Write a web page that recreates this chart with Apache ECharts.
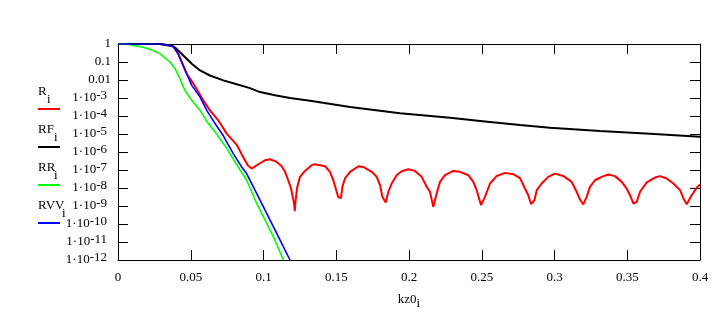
<!DOCTYPE html>
<html>
<head>
<meta charset="utf-8">
<script src="https://cdn.jsdelivr.net/npm/echarts@6/dist/echarts.min.js"></script>
<style>
  * { margin: 0; padding: 0; }
  html, body { background: #fff; }
  #main { width: 720px; height: 326px; }
</style>
</head>
<body>
<div id="main"></div>
<script>
// values: kz0_i and log10 of each curve
var xR = [0, 0.0289, 0.038, 0.0414, 0.0438, 0.0472, 0.0518, 0.0586, 0.0632, 0.0689, 0.0747, 0.0816, 0.0859, 0.0893, 0.0919,
  0.0964, 0.101, 0.1045, 0.1091, 0.1125, 0.1148, 0.117, 0.1189, 0.1201, 0.121, 0.1215, 0.1221, 0.1232, 0.1251, 0.1285,
  0.1331, 0.1354, 0.1423, 0.1457, 0.148, 0.1503, 0.1514, 0.1533, 0.1542, 0.156, 0.1595, 0.1652, 0.1686, 0.1744, 0.1778,
  0.1801, 0.1817, 0.184, 0.1858, 0.1881, 0.1915, 0.195, 0.1995, 0.2041, 0.2087, 0.2122, 0.2144, 0.2167, 0.219, 0.2213,
  0.2247, 0.2305, 0.2351, 0.2408, 0.2442, 0.2465, 0.2495, 0.2522, 0.2557, 0.2603, 0.266, 0.2717, 0.2763, 0.2797, 0.282,
  0.2839, 0.2862, 0.2878, 0.2912, 0.2957, 0.3003, 0.306, 0.3118, 0.3152, 0.3175, 0.3198, 0.3221, 0.3244, 0.3278, 0.3324,
  0.337, 0.3416, 0.3462, 0.3496, 0.3519, 0.3542, 0.3565, 0.3588, 0.3634, 0.3691, 0.3725, 0.3771, 0.3817, 0.3863, 0.3886,
  0.3909, 0.3943, 0.3978, 0.4];
var logR = [0, 0, -0.14, -0.55, -1.0, -1.65, -2.2, -3.13, -3.69, -4.24, -4.98, -5.6, -6.27, -6.75, -6.92,
  -6.68, -6.46, -6.4, -6.55, -6.79, -7.1, -7.57, -8.03, -8.49, -8.86, -9.28, -8.68, -7.94, -7.38, -7.05,
  -6.73, -6.68, -6.79, -7.1, -7.57, -8.21, -8.52, -8.55, -7.94, -7.47, -7.1, -6.79, -6.83, -7.1, -7.38,
  -7.84, -8.49, -8.8, -8.21, -7.75, -7.29, -7.07, -6.96, -7.05, -7.38, -7.94, -8.21, -9.05, -8.3, -7.66,
  -7.29, -7.05, -7.1, -7.29, -7.66, -8.12, -8.95, -8.49, -7.75, -7.33, -7.16, -7.23, -7.45, -8.03, -8.4,
  -8.9, -8.68, -8.12, -7.75, -7.38, -7.2, -7.33, -7.66, -8.21, -8.64, -8.91, -8.49, -7.94, -7.57, -7.38,
  -7.25, -7.34, -7.66, -8.03, -8.4, -8.86, -8.77, -8.21, -7.69, -7.42, -7.34, -7.47, -7.75, -8.12, -8.58,
  -8.9, -8.4, -7.98, -7.8];

var xRF = [0, 0.0289, 0.0369, 0.0403, 0.0449, 0.0507, 0.0564, 0.0632, 0.0724, 0.0816, 0.0907, 0.0976, 0.1079, 0.1182,
  0.132, 0.1595, 0.1938, 0.2282, 0.2522, 0.2763, 0.2969, 0.3313, 0.3656, 0.4];
var logRF = [0, 0, -0.08, -0.27, -0.64, -1.1, -1.47, -1.75, -2.02, -2.24, -2.45, -2.67, -2.85, -3.0,
  -3.15, -3.5, -3.85, -4.1, -4.3, -4.5, -4.65, -4.83, -4.98, -5.15];

var xRR = [0, 0.0048, 0.0172, 0.0241, 0.0289, 0.0357, 0.0392, 0.0426, 0.046, 0.0507, 0.0564, 0.061, 0.0678, 0.0747,
  0.0816, 0.0884, 0.0953, 0.1022, 0.1079, 0.1136];
var logRR = [0, 0, -0.18, -0.36, -0.55, -1.0, -1.37, -1.93, -2.58, -3.13, -3.69, -4.3, -5.0, -5.8,
  -6.7, -7.57, -8.86, -9.97, -10.9, -12];

var xRVV = [0, 0.0289, 0.038, 0.0414, 0.0438, 0.0472, 0.0507, 0.0564, 0.061, 0.0667, 0.0724, 0.0792, 0.085, 0.0884,
  0.0953, 0.1022, 0.1091, 0.1136, 0.1182];
var logRVV = [0, 0, -0.14, -0.55, -1.0, -1.65, -2.3, -2.95, -3.69, -4.42, -5.1, -6.09, -6.83, -7.2,
  -8.3, -9.41, -10.52, -11.26, -12];

var xTicks = [0, 0.05, 0.1, 0.15, 0.2, 0.25, 0.3, 0.35, 0.4];

var names = ['R', 'RF', 'RR', 'RVV'];
var colors = ['#ff0000', '#000000', '#00ff00', '#0000ff'];

function pairs(xs, logs) {
  return xs.map(function (x, i) { return [x, Math.pow(10, logs[i])]; });
}

var FONT = 'Liberation Serif';
var chart = echarts.init(document.getElementById('main'));

var base = { color: '#000', fontFamily: FONT, fontSize: 13, lineHeight: 12 };
var rich = {
  m: Object.assign({ verticalAlign: 'bottom' }, base),
  e: Object.assign({ padding: [0, 4, 5, 0] }, base)
};

function yLabel(v) {
  var n = Math.round(Math.log10(v));
  if (n === 0) return '{m|1}';
  if (n === -1) return '{m|0.1}';
  if (n === -2) return '{m|0.01}';
  return '{m|1\u00b710}{e|' + n + '}';
}

var axisLineStyle = { show: true, onZero: false, lineStyle: { color: '#000', width: 1 } };
var tickStyle = { show: true, inside: true, length: 10, lineStyle: { color: '#000', width: 1 } };

// legend drawn by hand, like the original
var legendY = [85, 123, 161, 199];
var graphics = [];
names.forEach(function (nm, i) {
  graphics.push({
    type: 'text', left: 38, top: legendY[i],
    style: { text: nm, fill: '#000', font: '13px "' + FONT + '"' }
  });
  graphics.push({
    type: 'text', left: 38 + nm.length * 8 + (nm === 'R' ? 1 : 0), top: legendY[i] + 8,
    style: { text: 'i', fill: '#000', font: '13px "' + FONT + '"' }
  });
  graphics.push({
    type: 'line',
    shape: { x1: 38, y1: legendY[i] + 24, x2: 60, y2: legendY[i] + 24 },
    style: { stroke: colors[i], lineWidth: 2 }
  });
});

chart.setOption({
  animation: false,
  backgroundColor: '#fff',
  grid: { left: 118, right: 20, top: 44, bottom: 66, outerBoundsMode: 'none' },
  graphic: graphics,
  xAxis: [
    {
      type: 'value', min: xTicks[0], max: xTicks[xTicks.length - 1], interval: 0.05,
      position: 'bottom',
      axisLine: axisLineStyle, axisTick: tickStyle,
      axisLabel: { color: '#000', fontFamily: FONT, fontSize: 13, margin: 11, showMinLabel: true, showMaxLabel: true, hideOverlap: false },
      splitLine: { show: false },
      name: 'kz0{s|i}', nameLocation: 'middle', nameGap: 29,
      nameTextStyle: {
        color: '#000', fontFamily: FONT, fontSize: 13,
        rich: { s: { color: '#000', fontFamily: FONT, fontSize: 13, padding: [8, 0, 0, 0] } }
      }
    },
    {
      type: 'value', min: xTicks[0], max: xTicks[xTicks.length - 1], interval: 0.05,
      position: 'top',
      axisLine: axisLineStyle, axisTick: tickStyle,
      axisLabel: { show: false }, splitLine: { show: false }
    }
  ],
  yAxis: [
    {
      type: 'log', logBase: 10, min: 1e-12, max: 1, interval: 1, splitNumber: 12,
      position: 'left',
      axisLine: axisLineStyle, axisTick: tickStyle,
      axisLabel: { interval: 0, margin: 7, formatter: yLabel, rich: rich, showMinLabel: true, showMaxLabel: true, hideOverlap: false },
      splitLine: { show: false }, minorTick: { show: false }
    },
    {
      type: 'log', logBase: 10, min: 1e-12, max: 1, interval: 1, splitNumber: 12,
      position: 'right',
      axisLine: axisLineStyle, axisTick: tickStyle,
      axisLabel: { show: false }, splitLine: { show: false }
    }
  ],
  series: [
    { name: 'R', type: 'line', data: pairs(xR, logR), color: colors[0] },
    { name: 'RF', type: 'line', data: pairs(xRF, logRF), color: colors[1] },
    { name: 'RR', type: 'line', data: pairs(xRR, logRR), color: colors[2] },
    { name: 'RVV', type: 'line', data: pairs(xRVV, logRVV), color: colors[3] }
  ].map(function (s, i) {
    return Object.assign(s, {
      showSymbol: false, symbol: 'none', clip: true,
      lineStyle: { color: colors[i], width: i < 2 ? 2 : 1.6 }
    });
  })
});
</script>
</body>
</html>
